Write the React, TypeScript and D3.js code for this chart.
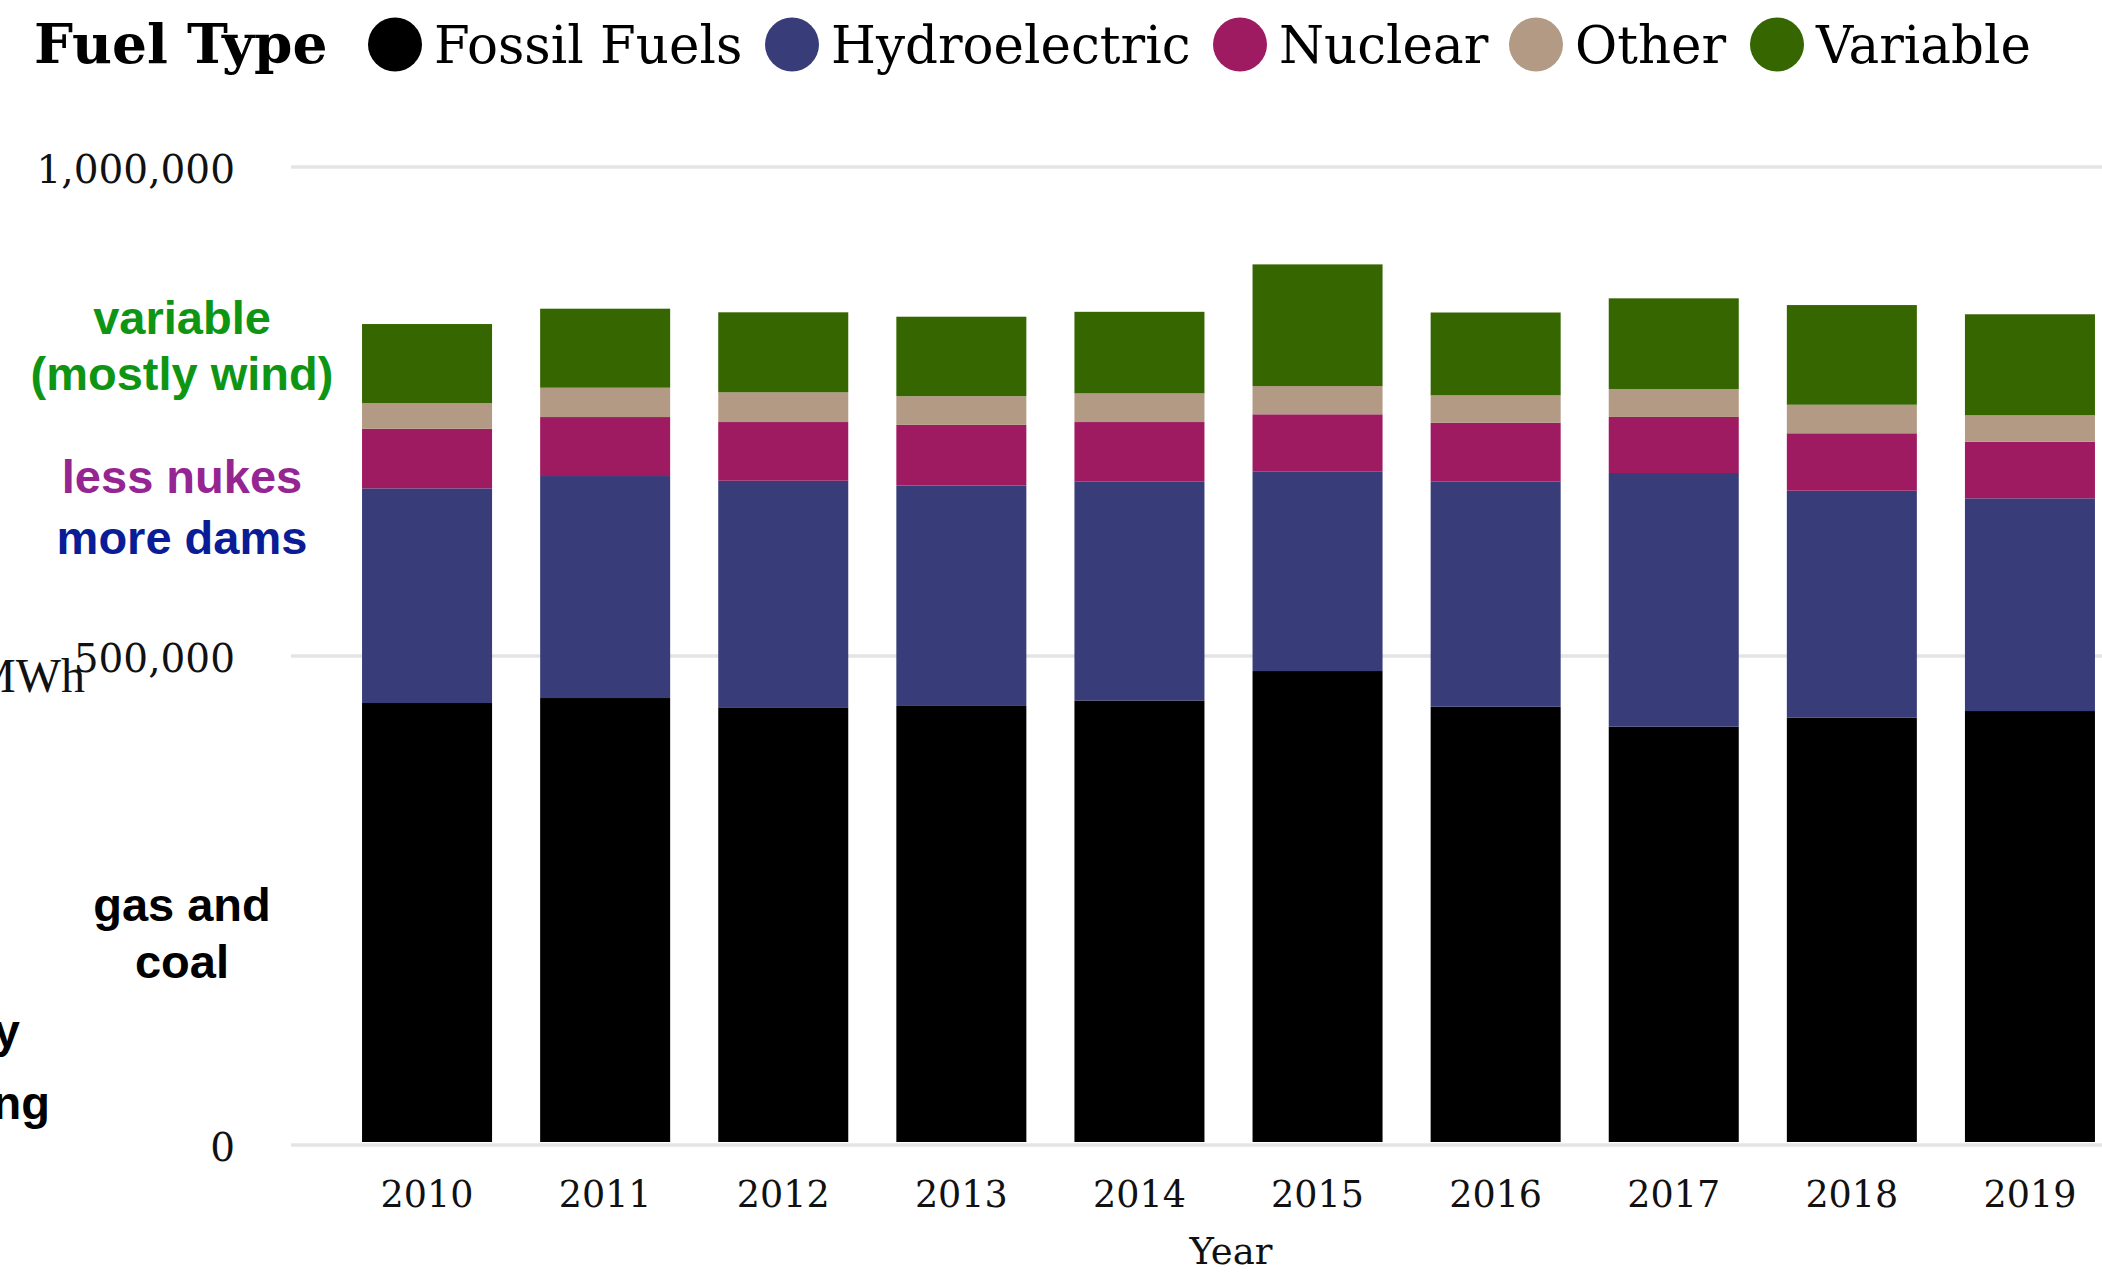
import React from "react";
import * as d3 from "d3";

// ---- data ----
const YEARS = ["2010", "2011", "2012", "2013", "2014", "2015", "2016", "2017", "2018", "2019"];
const FOSSIL = [450900, 456000, 446500, 447900, 453500, 483600, 447100, 426700, 436100, 442700];
const HYDRO = [219500, 227000, 231700, 225500, 224100, 203800, 230100, 259400, 231900, 217500];
const NUCLEAR = [60900, 60300, 60000, 61900, 60600, 58700, 60300, 57300, 58700, 57900];
const OTHER = [26300, 30000, 30400, 29400, 29300, 28900, 28000, 28600, 29200, 27000];
const VARIABLE = [80800, 80800, 81800, 81200, 83400, 124400, 84700, 92700, 101900, 103300];
const SERIES_KEYS = ["fossil", "hydro", "nuclear", "other", "variable"];
const SERIES_LABELS = ["Fossil Fuels", "Hydroelectric", "Nuclear", "Other", "Variable"];
const SERIES_COLORS = ["#000000", "#383d79", "#9e1a61", "#b39a84", "#356600"];
const Y_TICKS = [0, 500000, 1000000];

// ---- layout ----
const W = 2102;
const H = 1272;
const LEGEND_CX = [395, 792, 1240, 1536, 1777];
const SERIF = "'DejaVu Serif', serif";
const SANS = "'Liberation Sans', Arial, sans-serif";

export default function App() {
  const x = d3
    .scaleBand<string>()
    .domain(YEARS)
    .range([338, 2119])
    .paddingInner(0.27)
    .paddingOuter(0.135);
  const y = d3.scaleLinear().domain([0, 1000000]).range([1144, 166]);

  const rows = YEARS.map((yr, i) => ({
    year: yr,
    fossil: FOSSIL[i],
    hydro: HYDRO[i],
    nuclear: NUCLEAR[i],
    other: OTHER[i],
    variable: VARIABLE[i],
  }));
  const stacked = d3.stack<any>().keys(SERIES_KEYS)(rows);
  const fmt = d3.format(",");

  return (
    <div style={{ position: "absolute", left: 0, top: 0 }}>
      <svg width={W} height={H} viewBox={`0 0 ${W} ${H}`} style={{ display: "block", background: "#fff" }}>
        {/* legend */}
        <text x={34} y={63} fontFamily={SERIF} fontWeight="bold" fontSize={55} fill="#000">
          Fuel Type
        </text>
        {SERIES_LABELS.map((lab, i) => (
          <g key={lab}>
            <circle cx={LEGEND_CX[i]} cy={44.5} r={27} fill={SERIES_COLORS[i]} />
            <text x={LEGEND_CX[i] + 39} y={63} fontFamily={SERIF} fontSize={51.5} fill="#000">
              {lab}
            </text>
          </g>
        ))}

        {/* gridlines */}
        {Y_TICKS.map((t) => (
          <line key={t} x1={291} x2={W} y1={y(t) + 1} y2={y(t) + 1} stroke="#e4e4e4" strokeWidth={3.5} />
        ))}

        {/* MWh axis label (cut off at left, as in the original) */}
        <text x={85} y={692} textAnchor="end" fontFamily="'Liberation Serif', serif" fontSize={48} fill="#111">
          MWh
        </text>

        {/* y tick labels */}
        {Y_TICKS.map((t) => (
          <text key={t} x={235} y={y(t) + 17} textAnchor="end" fontFamily={SERIF} fontSize={39} fill="#111">
            {fmt(t)}
          </text>
        ))}

        {/* bars */}
        {stacked.map((s, si) => (
          <g key={s.key} fill={SERIES_COLORS[si]}>
            {s.map((d: any) => (
              <rect
                key={d.data.year}
                x={x(d.data.year)}
                width={x.bandwidth()}
                y={y(d[1])}
                height={y(d[0]) - y(d[1]) - (si === 0 ? 2 : 0)}
              />
            ))}
          </g>
        ))}

        {/* x tick labels */}
        {YEARS.map((yr) => (
          <text
            key={yr}
            x={(x(yr) as number) + x.bandwidth() / 2}
            y={1207}
            textAnchor="middle"
            fontFamily={SERIF}
            fontSize={36.5}
            fill="#111"
          >
            {yr}
          </text>
        ))}
        <text x={1231} y={1264} textAnchor="middle" fontFamily={SERIF} fontSize={37} fill="#111">
          Year
        </text>

        {/* annotations */}
        <g fontFamily={SANS} fontWeight="bold" fontSize={47} textAnchor="middle">
          <text x={182} y={334} fill="#0f9514">variable</text>
          <text x={182} y={390} fill="#0f9514">(mostly wind)</text>
          <text x={182} y={493} fill="#952593">less nukes</text>
          <text x={182} y={554} fill="#0a1c96">more dams</text>
          <text x={182} y={921} fill="#000">gas and</text>
          <text x={182} y={978} fill="#000">coal</text>
          <text x={20} y={1047} textAnchor="end" fill="#000">y</text>
          <text x={50} y={1119} textAnchor="end" fill="#000">ng</text>
        </g>
      </svg>
    </div>
  );
}
